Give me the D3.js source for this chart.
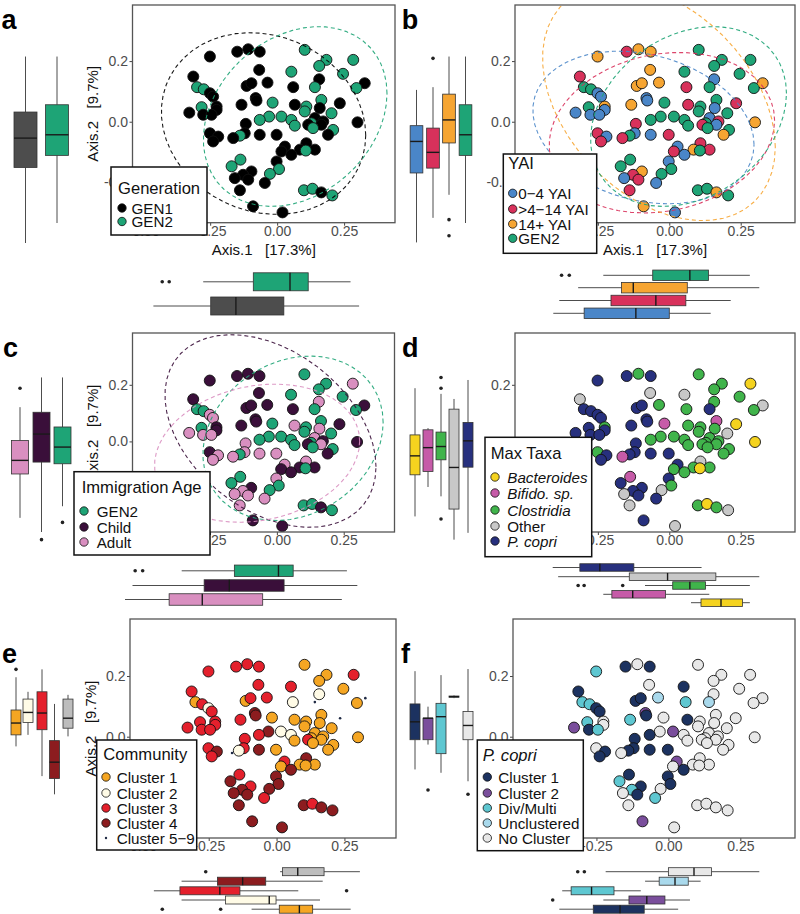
<!DOCTYPE html>
<html><head><meta charset="utf-8">
<script src="https://cdn.jsdelivr.net/npm/d3@7"></script>
<style>
body{margin:0;background:#fff}
svg{display:block}
text{font-family:"Liberation Sans",Arial,sans-serif}
</style>
</head><body>
<svg id="chart" width="800" height="914"></svg>
<script>
// ---------------- DATA ----------------
// PCoA coordinates (Axis.1, Axis.2) of each sample
const ptX = [-0.251,-0.149,-0.108,-0.065,0.103,0.184,0.284,0.157,-0.067,0.053,
 0.246,-0.313,0.157,-0.036,-0.114,-0.096,0.327,0.060,0.141,0.296,
 -0.299,-0.274,-0.251,-0.239,-0.080,0.165,-0.017,0.234,-0.133,0.066,
 -0.226,-0.282,0.109,0.159,-0.226,0.103,0.203,-0.328,-0.276,-0.245,
 -0.030,0.016,0.141,-0.065,0.053,0.172,0.300,0.128,-0.117,0.116,
 0.165,0.066,0.134,0.209,-0.251,-0.121,-0.065,-0.002,0.190,-0.220,
 -0.139,-0.164,-0.239,0.109,0.029,0.085,0.141,0.107,0.016,0.053,
 -0.137,-0.002,-0.170,0.007,-0.096,-0.127,-0.027,-0.158,-0.108,-0.046,
 -0.139,0.100,0.132,0.165,0.206,-0.090,0.020,-0.077];
const ptY = [0.215,0.231,0.239,0.231,0.237,0.204,0.204,0.184,0.171,0.165,
 0.158,0.149,0.140,0.129,0.118,0.127,0.127,0.114,0.114,0.111,
 0.114,0.107,0.094,0.083,0.078,0.072,0.063,0.061,0.056,0.056,
 0.050,0.048,0.050,0.045,0.039,0.034,0.028,0.030,0.023,0.023,
 0.017,0.017,0.012,0.006,0.006,0.001,-0.002,-0.005,-0.007,-0.010,
 -0.010,-0.013,-0.021,-0.027,-0.038,-0.038,-0.043,-0.043,-0.043,-0.049,
 -0.046,-0.054,-0.065,-0.071,-0.082,-0.092,-0.092,-0.095,-0.098,-0.109,
 -0.125,-0.131,-0.147,-0.156,-0.164,-0.175,-0.172,-0.186,-0.191,-0.202,
 -0.226,-0.226,-0.221,-0.233,-0.243,-0.279,-0.299,0.070];
// per-sample group codes
const generation = ("1111222212"+"2111111122"+"2211122111"+"1221122111"+"2212211211"+"1222111111"+"2111111211"+"2122112111"+"12212111").split("");
const yai        = ("CBCCGGGGCG"+"GBACCCCBGG"+"GGAAAGGBCB"+"CGGAAGGAAA"+"GGAGGBCGBB"+"AGGGBAABCA"+"GBBBACBGBA"+"GAGGCBGABA"+"BGGCGCAA").split("");
const immAge     = ("HHHHGGDGHG"+"GHDHHHHHGG"+"GGDDHGGHHD"+"HGGDHGGDDD"+"GGDGGHHGDH"+"DGGGHDDDHD"+"GDDDDHHGHH"+"GDGGHDGDDD"+"DGGHGHHH").split("");
const maxTaxa    = ("PPLPLLYLOO"+"LOLLPPOLPL"+"PPPPPMMYPL"+"LPLLPLOPPP"+"LLLLLLYLPL"+"LLLLLPPPLP"+"PMPOPLLYLL"+"MPPLPPOOPP"+"OLYLOPOP").split("");
const community  = ("3333113133"+"1323135251"+"1323411531"+"3311311333"+"4213211133"+"1111334114"+"2534311114"+"3444344443"+"44344444").split("");
const pcopri     = ("D1N1NNNNN1"+"N1NU11NDUN"+"DD112NNND1"+"NDNNNNN21D"+"N2N1NNNN1N"+"NNNNN111N1"+"1N1N2NNNN1"+"11D11DNN1D"+"NNNNN2N1").split("");

// categories, labels, colours
const genCats=["1","2"], genLabels=["GEN1","GEN2"], genColors=["#000000","#1ea476"], genBoxColors=["#4d4d4d","#1ea476"];
const yaiCats=["A","B","C","G"], yaiLabels=["0\u22124 YAI",">4\u221214 YAI","14+ YAI","GEN2"], yaiColors=["#4a86c8","#d8315b","#f6a532","#1ea476"];
const immCats=["G","H","D"], immLabels=["GEN2","Child","Adult"], immColors=["#1ea476","#3a0f3a","#d98fc0"];
const taxaCats=["Y","M","L","O","P"], taxaLabels=["Bacteroides","Bifido. sp.","Clostridia","Other","P. copri"], taxaItalic=[true,true,true,false,true], taxaColors=["#f5d31f","#c65ba8","#40b44b","#c8c8c8","#27307e"];
const commCats=["1","2","3","4","5"], commLabels=["Cluster 1","Cluster 2","Cluster 3","Cluster 4","Cluster 5\u22129"], commColors=["#f5a623","#fffbe6","#e4202c","#8c1c1f","#bdbdbd"];
const pcCats=["1","2","D","U","N"], pcLabels=["Cluster 1","Cluster 2","Div/Multi","Unclustered","No Cluster"], pcColors=["#1c3260","#7a4e9c","#5ec7d1","#a9d9ec","#e8e8e8"];

// marginal boxplot statistics: [lower whisker, Q1, median, Q3, upper whisker], outliers
const genAxis2 = {"1":[-0.400,-0.151,-0.054,0.032,0.215], "2":[-0.334,-0.111,-0.043,0.056,0.215]};
const genAxis2Out = {"1":[], "2":[]};
const genAxis1 = {"1":[-0.462,-0.248,-0.154,0.025,0.306], "2":[-0.276,-0.089,0.048,0.116,0.274]};
const genAxis1Out = {"1":[], "2":[-0.429,-0.403]};

const yaiAxis2 = {A:[-0.398,-0.169,-0.065,-0.013,0.105], B:[-0.317,-0.153,-0.101,-0.021,0.114], C:[-0.241,-0.070,0.006,0.091,0.215], G:[-0.334,-0.111,-0.043,0.056,0.215]};
const yaiAxis2Out = {A:[], B:[0.209], C:[-0.323,-0.376], G:[]};
const yaiAxis1 = {A:[-0.406,-0.298,-0.117,0.000,0.145], B:[-0.385,-0.204,-0.047,0.058,0.215], C:[-0.319,-0.167,-0.126,0.063,0.315], G:[-0.231,-0.058,0.072,0.137,0.282]};
const yaiAxis1Out = {A:[], B:[], C:[], G:[-0.377,-0.350]};

const immAxis2 = {G:[-0.229,-0.079,-0.020,0.051,0.226], H:[-0.320,-0.073,0.026,0.103,0.226], D:[-0.270,-0.115,-0.067,0.003,0.121]};
const immAxis2Out = {G:[-0.286], H:[-0.347], D:[0.188]};
const immAxis1 = {G:[-0.356,-0.159,0.006,0.061,0.262], H:[-0.540,-0.272,-0.178,0.027,0.301], D:[-0.568,-0.403,-0.279,-0.053,0.243]};
const immAxis1Out = {G:[-0.530,-0.502], H:[], D:[]};

const taxaAxis2 = {Y:[-0.265,-0.118,-0.051,0.023,0.188], M:[-0.161,-0.106,-0.022,0.041,0.047], L:[-0.194,-0.065,-0.018,0.033,0.168], O:[-0.347,-0.239,-0.092,0.114,0.150], P:[-0.323,-0.091,0.002,0.067,0.217]};
const taxaAxis2Out = {Y:[], M:[], L:[0.226,0.188,-0.274], O:[], P:[]};
const taxaAxis1 = {Y:[0.076,0.111,0.181,0.256,0.282], M:[-0.231,-0.201,-0.128,-0.013,0.140], L:[-0.085,0.012,0.072,0.127,0.282], O:[-0.389,-0.140,-0.006,0.163,0.315], P:[-0.408,-0.313,-0.243,-0.124,0.113]};
const taxaAxis1Out = {Y:[], M:[], L:[-0.319,-0.298,-0.163], O:[], P:[]};

const commAxis2 = {"1":[-0.032,0.006,0.045,0.088,0.196], "2":[0.006,0.047,0.080,0.124,0.148], "3":[-0.130,0.023,0.078,0.148,0.222], "4":[-0.190,-0.138,-0.084,-0.013,0.108], "5":[0.001,0.028,0.061,0.124,0.138]};
const commAxis2Out = {"1":[0.222], "2":[], "3":[], "4":[], "5":[]};
const commAxis1 = {"1":[-0.092,0.010,0.084,0.133,0.273], "2":[-0.350,-0.188,-0.027,-0.002,0.160], "3":[-0.452,-0.356,-0.209,-0.135,0.080], "4":[-0.350,-0.218,-0.125,-0.040,0.170], "5":[0.013,0.022,0.078,0.175,0.307]};
const commAxis1Out = {"1":[-0.421,-0.206], "2":[], "3":[0.258], "4":[], "5":[-0.261]};

const pcAxis2 = {"1":[-0.108,-0.010,0.049,0.108,0.216], "2":[-0.026,-0.010,0.061,0.061,0.099], D:[-0.119,-0.056,0.066,0.110,0.203], U:[0.127,0.130,0.132,0.134,0.136], N:[-0.147,-0.010,0.037,0.083,0.223]};
const pcAxis2Out = {"1":[], "2":[-0.176], D:[], U:[], N:[-0.190]};
const pcAxis1 = {"1":[-0.379,-0.261,-0.168,-0.084,0.034], "2":[-0.226,-0.137,-0.075,-0.012,0.075], D:[-0.369,-0.338,-0.267,-0.189,-0.096], U:[-0.081,-0.032,0.023,0.069,0.112], N:[-0.218,0.000,0.089,0.150,0.316]};
const pcAxis1Out = {"1":[], "2":[-0.402], D:[], U:[], N:[-0.315,-0.292]};

// axes
const xTicks=[-0.5,-0.25,0,0.25], xTickLabels=["-0.50","-0.25","0.00","0.25"];
const yTicks=[-0.2,0,0.2], yTickLabels=["-0.2","0.0","0.2"];
const xDomain=[-0.54,0.44];

// ---------------- LAYOUT ----------------
// hideX / hideY: tick labels fully covered by the legend in the composite figure
const panels = [
 {id:"a", attr:generation, cats:genCats, labels:genLabels, colors:genColors, boxColors:genBoxColors, title:"Generation",
  ax2:genAxis2, ax2o:genAxis2Out, ax1:genAxis1, ax1o:genAxis1Out, ellipse:true, hideX:[], hideY:[],
  box:[132.5,395,5,222.7], yd:[-0.333,0.385], legend:[111,167,207,235], titleY:188, itemY:[208,221.5], titleX:118, keyX:122, textX:131.5,
  leftX:[25.5,57], leftW:23, bottomY:[306,281.8], bottomH:18, label:[1.5,29.3], xTitle:true, yTitle:true},
 {id:"b", attr:yai, cats:yaiCats, labels:yaiLabels, colors:yaiColors, title:"YAI",
  ax2:yaiAxis2, ax2o:yaiAxis2Out, ax1:yaiAxis1, ax1o:yaiAxis1Out, ellipse:true, hideX:[-0.5], hideY:[],
  box:[515,795,5,222.7], yd:[-0.333,0.385], legend:[503.3,154,596.7,253.3], titleY:163.3, itemY:[193.3,209,224,238.3], titleX:508.3, keyX:512.7, textX:518.3,
  leftX:[416.5,433,449,465.5], leftW:12.7, bottomY:[313.3,300.5,287.7,275.3], bottomH:10.5, label:[401.7,29.3], xTitle:true, yTitle:false},
 {id:"c", attr:immAge, cats:immCats, labels:immLabels, colors:immColors, title:"Immigration Age",
  ax2:immAxis2, ax2o:immAxis2Out, ax1:immAxis1, ax1o:immAxis1Out, ellipse:true, hideX:[-0.5], hideY:[-0.2],
  box:[132.5,394.5,333,532], yd:[-0.320,0.383], legend:[74,471.7,210,555], titleY:487, itemY:[511,527,542], titleX:81.7, keyX:84, textX:96.7,
  leftX:[62.5,41.5,20], leftW:17, bottomY:[570.8,585.5,599.5], bottomH:11.5, label:[3,357], xTitle:false, yTitle:true},
 {id:"d", attr:maxTaxa, cats:taxaCats, labels:taxaLabels, italic:taxaItalic, colors:taxaColors, title:"Max Taxa",
  ax2:taxaAxis2, ax2o:taxaAxis2Out, ax1:taxaAxis1, ax1o:taxaAxis1Out, ellipse:false, hideX:[-0.5], hideY:[-0.2,0],
  box:[515,795,333,532], yd:[-0.320,0.383], legend:[485,437.3,591.7,556.7], titleY:453, itemY:[477,493,510,526,541], titleX:490.7, keyX:495, textX:507.3,
  leftX:[415,428,441,454,468], leftW:10, bottomY:[602.7,594.3,585.5,576.7,567.5], bottomH:7.5, label:[402,357], xTitle:false, yTitle:false},
 {id:"e", attr:community, cats:commCats, labels:commLabels, colors:commColors, title:"Community", tiny:"5",
  ax2:commAxis2, ax2o:commAxis2Out, ax1:commAxis1, ax1o:commAxis1Out, ellipse:false, hideX:[], hideY:[-0.2],
  box:[130,396,619,838], yd:[-0.334,0.388], legend:[96.7,740,196.7,850], titleY:754, itemY:[777,793,808,823,838], titleX:103.3, keyX:106, textX:116.7,
  leftX:[16,28,42,54.5,68], leftW:10, bottomY:[909.2,900,890.8,881.2,871.7], bottomH:8, label:[2,662.7], xTitle:false, yTitle:true},
 {id:"f", attr:pcopri, cats:pcCats, labels:pcLabels, colors:pcColors, title:"P. copri", titleItalic:true,
  ax2:pcAxis2, ax2o:pcAxis2Out, ax1:pcAxis1, ax1o:pcAxis1Out, ellipse:false, hideX:[], hideY:[-0.2],
  box:[513,795,619,838], yd:[-0.334,0.388], legend:[477.3,740,583.3,850.7], titleY:755, itemY:[777,793,808,823,838], titleX:482.7, keyX:487.3, textX:498.3,
  leftX:[415,428,441,454,468], leftW:10, bottomY:[909.2,900,890.8,881.2,871.7], bottomH:8, label:[401,662.7], xTitle:false, yTitle:false}
];

// ---------------- HELPERS ----------------
function qf2(p, d){ return (d/2)*(Math.pow(1-p, -2/d) - 1); } // F quantile, dfn=2
function covTrob(xs, ys, nu){
  const n=xs.length; let w=new Array(n).fill(1);
  let lx=d3.mean(xs), ly=d3.mean(ys), X=[];
  for(let it=0; it<25; it++){
    const w0=w.slice();
    X=xs.map((v,i)=>[v-lx, ys[i]-ly]);
    const sw=d3.sum(w); let a=0,b=0,c=0;
    X.forEach((d,i)=>{a+=w[i]*d[0]*d[0]; b+=w[i]*d[0]*d[1]; c+=w[i]*d[1]*d[1];});
    a/=sw; b/=sw; c/=sw;
    const det=a*c-b*b;
    w=X.map(d=>(nu+2)/(nu+(c*d[0]*d[0]-2*b*d[0]*d[1]+a*d[1]*d[1])/det));
    const sw2=d3.sum(w);
    lx=d3.sum(xs.map((v,i)=>w[i]*v))/sw2; ly=d3.sum(ys.map((v,i)=>w[i]*v))/sw2;
    if(d3.max(w.map((v,i)=>Math.abs(v-w0[i])))<0.01) break;
  }
  let a=0,b=0,c=0;
  X.forEach((d,i)=>{a+=w[i]*d[0]*d[0]; b+=w[i]*d[0]*d[1]; c+=w[i]*d[1]*d[1];});
  return {cx:lx, cy:ly, sxx:a/n, sxy:b/n, syy:c/n};
}
function ellipsePoints(xs, ys){
  const e=covTrob(xs, ys, 5), n=xs.length;
  const r=Math.sqrt(2*qf2(0.95, n-1));
  const A=Math.sqrt(e.sxx), B=e.sxy/A, C=Math.sqrt(Math.max(e.syy-B*B,1e-9));
  return d3.range(52).map(k=>{const t=2*Math.PI*k/51; return [e.cx+r*A*Math.cos(t), e.cy+r*(B*Math.cos(t)+C*Math.sin(t))];});
}

const svg=d3.select("#chart");
svg.append("rect").attr("width",800).attr("height",914).attr("fill","#fff");
const idx=d3.range(ptX.length);

panels.forEach(P=>{
  const [l,r,t,b]=P.box;
  const x=d3.scaleLinear().domain(xDomain).range([l,r]);
  const y=d3.scaleLinear().domain(P.yd).range([b,t]);
  const col=d3.scaleOrdinal().domain(P.cats).range(P.colors);
  const boxCol=d3.scaleOrdinal().domain(P.cats).range(P.boxColors||P.colors);
  const g=svg.append("g");

  // axis titles
  if(P.xTitle) g.append("text").attr("x",(l+r)/2).attr("y",b+32.5).attr("text-anchor","middle")
     .attr("font-size",15).attr("fill","#111").style("white-space","pre").text("Axis.1   [17.3%]");
  if(P.yTitle) g.append("text").attr("transform",`translate(${l-34.5},${(t+b)/2}) rotate(-90)`).attr("text-anchor","middle")
     .attr("font-size",15).attr("fill","#111").style("white-space","pre").text("Axis.2   [9.7%]");

  // axes (ticks + labels)
  const xa=g.append("g").attr("transform",`translate(0,${b})`)
    .call(d3.axisBottom(x).tickValues(xTicks).tickFormat((d,i)=>P.hideX.includes(d)?"":xTickLabels[i]).tickSize(3).tickPadding(0.5));
  const ya=g.append("g").attr("transform",`translate(${l},0)`)
    .call(d3.axisLeft(y).tickValues(yTicks).tickFormat((d,i)=>P.hideY.includes(d)?"":yTickLabels[i]).tickSize(3).tickPadding(1.5));
  [xa,ya].forEach(a=>{a.select(".domain").remove();
    a.selectAll("line").attr("stroke","#444");
    a.selectAll("text").filter(function(){return this.textContent==="";}).remove();
    a.selectAll("text").attr("font-size",14).attr("fill","#4d4d4d").attr("font-family",'"Liberation Sans",Arial,sans-serif');});

  // points
  g.append("g").selectAll("circle").data(idx).join("circle")
    .attr("cx",i=>x(ptX[i])).attr("cy",i=>y(ptY[i]))
    .attr("r",i=>P.tiny&&P.attr[i]===P.tiny?1.3:5.5)
    .attr("fill",i=>P.tiny&&P.attr[i]===P.tiny?"#1f2a44":col(P.attr[i]))
    .attr("stroke",i=>P.tiny&&P.attr[i]===P.tiny?"none":"#111")
    .attr("stroke-width",0.9);

  // ellipses (robust t, 95%) clipped to panel
  if(P.ellipse){
    const cid="clip-"+P.id;
    svg.append("clipPath").attr("id",cid).append("rect").attr("x",l).attr("y",t).attr("width",r-l).attr("height",b-t);
    const line=d3.line().x(d=>x(d[0])).y(d=>y(d[1]));
    const eg=g.append("g").attr("clip-path",`url(#${cid})`);
    P.cats.forEach(c=>{
      const sel=idx.filter(i=>P.attr[i]===c);
      if(sel.length<3) return;
      eg.append("path").attr("d",line(ellipsePoints(sel.map(i=>ptX[i]), sel.map(i=>ptY[i]))))
        .attr("fill","none").attr("stroke",col(c)).attr("stroke-width",1.1)
        .attr("stroke-dasharray","4,3").attr("opacity",0.9);
    });
  }

  // panel border
  g.append("rect").attr("x",l).attr("y",t).attr("width",r-l).attr("height",b-t)
    .attr("fill","none").attr("stroke","#555").attr("stroke-width",1.3);

  // left marginal boxplots (Axis.2)
  const lx=d3.scaleOrdinal().domain(P.cats).range(P.leftX);
  const lg=g.append("g");
  P.cats.forEach(c=>{
    const s=P.ax2[c], cx=lx(c), w=P.leftW;
    lg.append("line").attr("x1",cx).attr("x2",cx).attr("y1",y(s[0])).attr("y2",y(s[1])).attr("stroke","#4d4d4d");
    lg.append("line").attr("x1",cx).attr("x2",cx).attr("y1",y(s[3])).attr("y2",y(s[4])).attr("stroke","#4d4d4d");
    lg.append("rect").attr("x",cx-w/2).attr("width",w).attr("y",y(s[3])).attr("height",Math.max(y(s[1])-y(s[3]),0.8))
      .attr("fill",boxCol(c)).attr("stroke","#333").attr("stroke-width",0.8);
    lg.append("line").attr("x1",cx-w/2).attr("x2",cx+w/2).attr("y1",y(s[2])).attr("y2",y(s[2])).attr("stroke","#1a1a1a").attr("stroke-width",1.4);
    P.ax2o[c].forEach(o=>lg.append("circle").attr("cx",cx).attr("cy",y(o)).attr("r",1.8).attr("fill","#222"));
  });

  // bottom marginal boxplots (Axis.1)
  const by=d3.scaleOrdinal().domain(P.cats).range(P.bottomY);
  const bg=g.append("g");
  P.cats.forEach(c=>{
    const s=P.ax1[c], cy=by(c), h=P.bottomH;
    bg.append("line").attr("y1",cy).attr("y2",cy).attr("x1",x(s[0])).attr("x2",x(s[1])).attr("stroke","#4d4d4d");
    bg.append("line").attr("y1",cy).attr("y2",cy).attr("x1",x(s[3])).attr("x2",x(s[4])).attr("stroke","#4d4d4d");
    bg.append("rect").attr("y",cy-h/2).attr("height",h).attr("x",x(s[1])).attr("width",Math.max(x(s[3])-x(s[1]),0.8))
      .attr("fill",boxCol(c)).attr("stroke","#333").attr("stroke-width",0.8);
    bg.append("line").attr("y1",cy-h/2).attr("y2",cy+h/2).attr("x1",x(s[2])).attr("x2",x(s[2])).attr("stroke","#1a1a1a").attr("stroke-width",1.4);
    P.ax1o[c].forEach(o=>bg.append("circle").attr("cy",cy).attr("cx",x(o)).attr("r",1.8).attr("fill","#222"));
  });

  // legend
  const L=P.legend, lgd=g.append("g");
  lgd.append("rect").attr("x",L[0]).attr("y",L[1]).attr("width",L[2]-L[0]).attr("height",L[3]-L[1])
    .attr("fill","#fff").attr("stroke","#111").attr("stroke-width",1.5);
  lgd.append("text").attr("x",P.titleX).attr("y",P.titleY+6).attr("font-size",16.6).attr("fill","#111")
    .attr("font-style",P.titleItalic?"italic":"normal").text(P.title);
  const iy=d3.scaleOrdinal().domain(P.cats).range(P.itemY);
  const items=lgd.selectAll("g.item").data(P.cats).join("g");
  items.append("circle").attr("cx",P.keyX).attr("cy",c=>iy(c))
    .attr("r",c=>P.tiny&&c===P.tiny?1.2:4.2)
    .attr("fill",c=>P.tiny&&c===P.tiny?"#1f2a44":col(c))
    .attr("stroke",c=>P.tiny&&c===P.tiny?"none":"#111").attr("stroke-width",0.8);
  items.append("text").attr("x",P.textX).attr("y",c=>iy(c)+5.5).attr("font-size",15.2).attr("fill","#111")
    .attr("font-style",(c,i)=>P.italic&&P.italic[i]?"italic":"normal").text((c,i)=>P.labels[i]);

  // panel letter
  g.append("text").attr("x",P.label[0]).attr("y",P.label[1]).attr("font-size",27).attr("font-weight","bold").attr("fill","#000").text(P.id);
});
</script>
</body></html>
